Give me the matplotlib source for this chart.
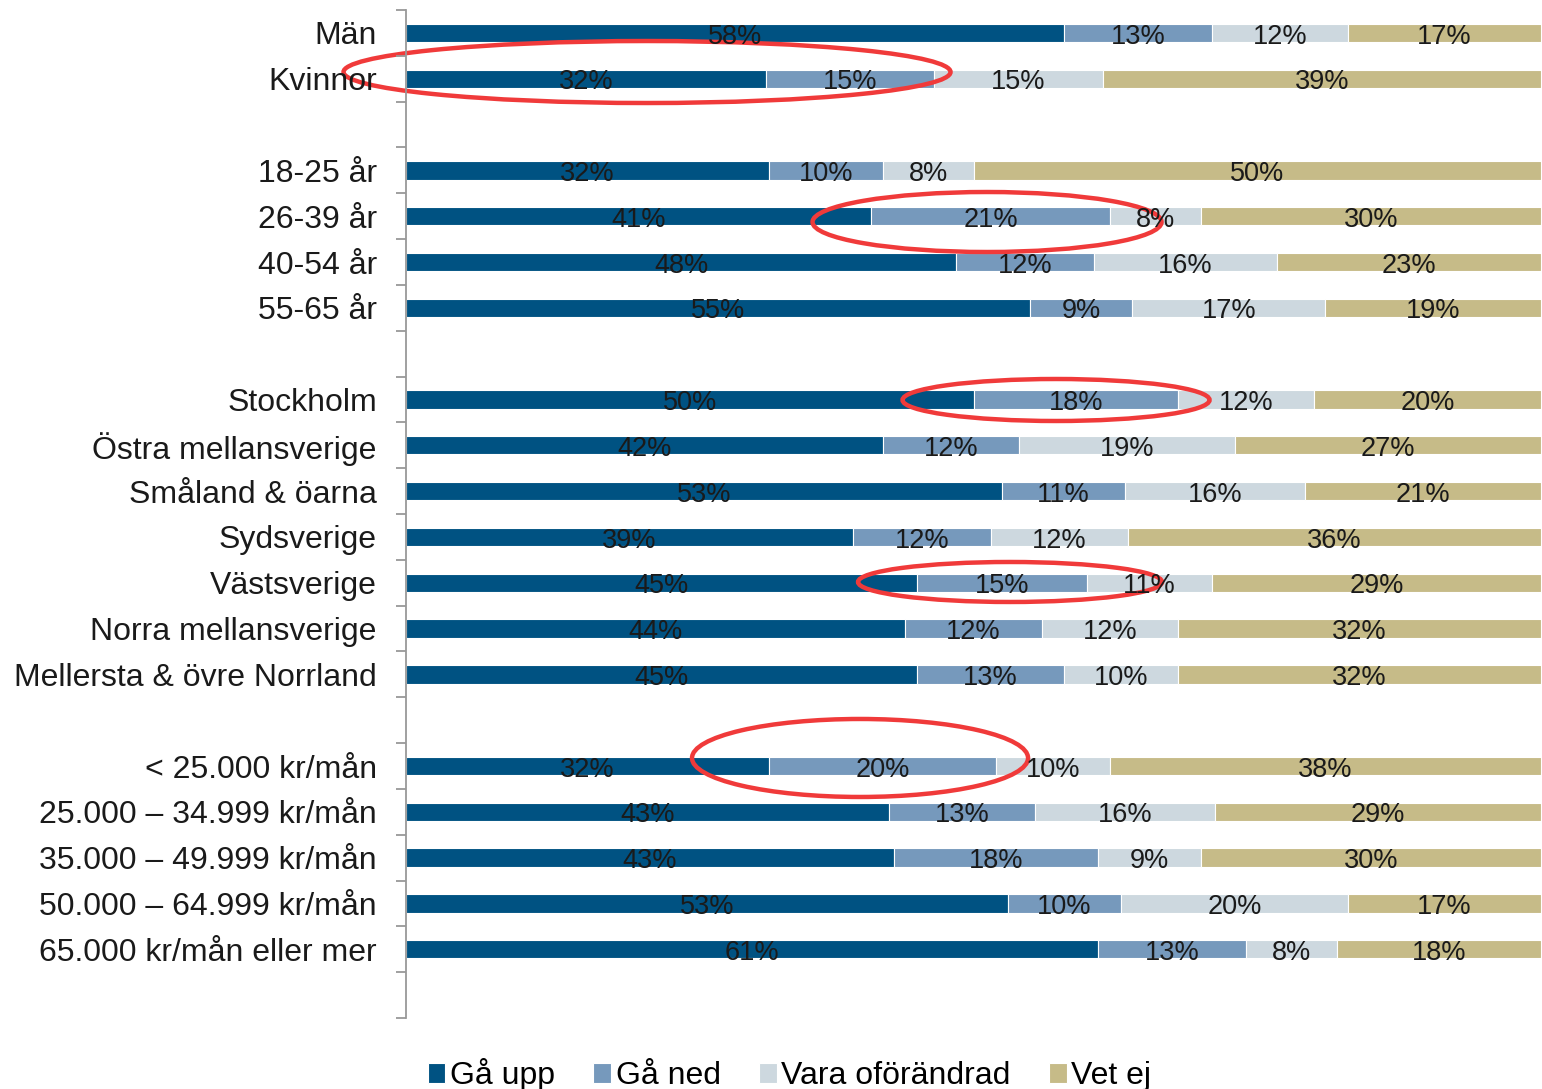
import numpy as np
import matplotlib
matplotlib.use("Agg")
from matplotlib import pyplot as plt
from matplotlib.patches import Ellipse

plt.rcParams['font.family'] = ['Liberation Sans', 'DejaVu Sans']

# kategorier (None = tom rad mellan grupperna)
kategorier = ["Män", "Kvinnor", None,
              "18-25 år", "26-39 år", "40-54 år", "55-65 år", None,
              "Stockholm", "Östra mellansverige", "Småland & öarna", "Sydsverige",
              "Västsverige", "Norra mellansverige", "Mellersta & övre Norrland", None,
              "< 25.000 kr/mån", "25.000 – 34.999 kr/mån", "35.000 – 49.999 kr/mån",
              "50.000 – 64.999 kr/mån", "65.000 kr/mån eller mer", None]

ga_upp = [58, 32, None, 32, 41, 48, 55, None, 50, 42, 53, 39, 45, 44, 45, None, 32, 43, 43, 53, 61, None]
ga_ned = [13, 15, None, 10, 21, 12, 9, None, 18, 12, 11, 12, 15, 12, 13, None, 20, 13, 18, 10, 13, None]
oforandrad = [12, 15, None, 8, 8, 16, 17, None, 12, 19, 16, 12, 11, 12, 10, None, 10, 16, 9, 20, 8, None]
vet_ej = [17, 39, None, 50, 30, 23, 19, None, 20, 27, 21, 36, 29, 32, 32, None, 38, 29, 30, 17, 18, None]

serier = ["Gå upp", "Gå ned", "Vara oförändrad", "Vet ej"]
farger = ["#005282", "#7699bc", "#cdd8df", "#c6bb88"]

f = plt.figure(figsize=(15.42, 10.89), dpi=100)
ax = f.add_axes([0.2633, 0.0652, 0.7361, 0.9256])

rader = [i for i, k in enumerate(kategorier) if k is not None]
data = np.array([[ga_upp[i], ga_ned[i], oforandrad[i], vet_ej[i]] for i in rader], dtype=float)
andel = data / data.sum(axis=1, keepdims=True) * 100

vanster = np.zeros(len(rader))
for j in range(4):
    ax.barh(rader, andel[:, j], left=vanster, height=0.4, color=farger[j],
            edgecolor="white", linewidth=0.8, label=serier[j])
    for r, l, w, v in zip(rader, vanster, andel[:, j], data[:, j]):
        ax.text(l + w / 2, r + 0.08, "%d%%" % v, ha="center", va="center",
                fontsize=19.5, color="#1a1a1a")
    vanster += andel[:, j]

ax.set_xlim(0, 100)
ax.set_ylim(len(kategorier) - 0.5, -0.5)
ax.set_yticks(rader)
ax.set_yticklabels([kategorier[i] for i in rader], fontsize=23, color="#1a1a1a")
ax.tick_params(axis="y", which="major", length=0, pad=21)
ax.set_yticks(np.arange(-0.5, len(kategorier), 1), minor=True)
ax.tick_params(axis="y", which="minor", length=7, width=1.3, color="#999999")
ax.set_xticks([])
for s in ["top", "right", "bottom"]:
    ax.spines[s].set_visible(False)
ax.spines["left"].set_color("#999999")
ax.spines["left"].set_linewidth(1.3)

# röda ringar
px = 100 / 1135.0
def ring(cx, cy, w, h):
    e = Ellipse(((cx - 406) * px, (cy - 10) / 45.82 - 0.5), w * px, h / 45.82,
                fill=False, edgecolor="#f03a3a", linewidth=3.2, clip_on=False)
    ax.add_patch(e)

ring(647, 72, 607, 62)
ring(987, 222, 349, 60)
ring(1056, 400, 307, 42)
ring(1010, 582, 304, 40)
ring(860, 758, 336, 78)

f.legend(loc="center", bbox_to_anchor=(0.512, 0.013), ncol=4, frameon=False,
         fontsize=23, handlelength=0.55, handleheight=0.55, handletextpad=0.15,
         columnspacing=1.2)

f.savefig("out.png", dpi=100)
